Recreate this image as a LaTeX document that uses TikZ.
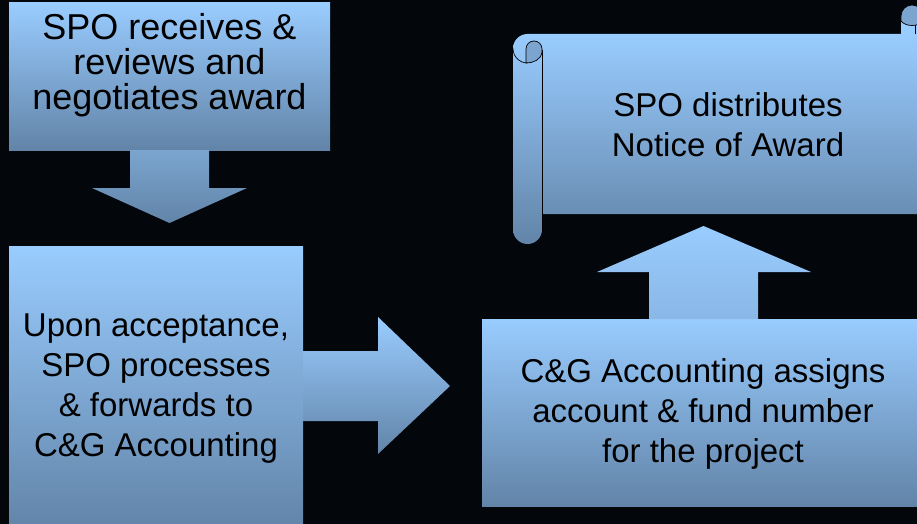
\documentclass[tikz,border=0pt]{standalone}
\usepackage{fontspec}
\setmainfont{Liberation Sans}
\definecolor{bg}{RGB}{3,6,10}
\definecolor{lite}{RGB}{153,204,255}
\definecolor{dark}{RGB}{98,132,168}
\colorlet{lobe}{lite!45!dark}
\tikzset{
  panel/.style={top color=lite, bottom color=dark, draw=none, inner sep=0pt, outer sep=0pt},
  lbl/.style={align=center, inner sep=0pt, text=black, font=\fontsize{33}{40}\selectfont},
  curl/.style={draw=black, line width=0.7pt},
}
\begin{document}
\begin{tikzpicture}[x=1pt,y=1pt]
\fill[bg] (0,0) rectangle (917,-524);
\useasboundingbox (0,0) rectangle (917,-524);
\begin{scope}
\clip (0,0) rectangle (917,-524);

% boxes
\node[panel, anchor=north west, minimum width=321pt, minimum height=147pt] (b1) at (9,-3) {};
\node[panel, anchor=north west, minimum width=294pt, minimum height=284pt] (b2) at (9,-246) {};
\node[panel, anchor=north west, minimum width=442pt, minimum height=187pt] (b3) at (482,-319) {};

% block arrows
\path[top color=lite!45!dark, bottom color=dark] (130,-150) -- (209,-150) -- (209,-188) -- (247,-188) -- (169.5,-223) -- (92,-188) -- (130,-188) -- cycle;
\path[panel] (303,-351) -- (378,-351) -- (378,-317) -- (450,-386) -- (378,-454) -- (378,-421) -- (303,-421) -- cycle;
\path[top color=lite, bottom color=lite!72!dark] (649,-319) -- (649,-272) -- (597,-272) -- (703.5,-226) -- (811,-272) -- (758,-272) -- (758,-319) -- cycle;

% scroll
\path[panel] (513,-48.5) arc[start angle=180, end angle=90, radius=14.5] -- (930,-34) -- (930,-214) -- (542,-214) -- (542,-229.5) arc[start angle=0, end angle=-180, radius=14.5] -- cycle;
\path[fill=lobe, curl] (526,-63) -- (526,-49) arc[start angle=180, end angle=0, radius=8] -- (542,-52) .. controls (541,-60) and (533,-63) .. (526,-63) -- cycle;
\draw[curl] (513,-48.5) arc[start angle=180, end angle=270, radius=14.5];
\draw[curl] (542,-50) -- (542,-232);
\fill[lite] (901,-22) rectangle (917,-34);
\path[fill=lobe, curl] (901,-21) -- (901,-16) arc[start angle=180, end angle=0, radius=11] -- (923,-21) .. controls (918,-27) and (906,-27) .. (901,-21) -- cycle;
\draw[curl] (915,-25) -- (915,-34);

% texts
\node[lbl, font=\fontsize{36}{35}\selectfont] (t1) at (169.5,-64.8) {SPO receives \&\\reviews and\\negotiates award};
\node[lbl] (t2) at (156,-388.5) {Upon acceptance,\\SPO processes\\\& forwards to\\C\&G Accounting};
\node[lbl] (t3) at (703,-414) {C\&G Accounting assigns\\account \& fund number\\for the project};
\node[lbl] (t4) at (728,-125) {SPO distributes\\Notice of Award};
\end{scope}
\end{tikzpicture}
\end{document}
